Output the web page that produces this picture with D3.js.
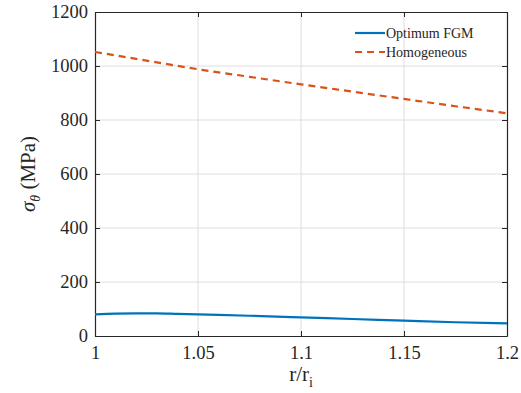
<!DOCTYPE html>
<html>
<head>
<meta charset="utf-8">
<title>Hoop stress</title>
<script src="https://cdn.jsdelivr.net/npm/d3@7"></script>
<style>
  body { margin: 0; background: #fff; }
  svg text { font-family: 'Liberation Serif', 'Times New Roman', serif; fill: #262626; }
  .grid line { stroke: #dedede; stroke-width: 1; }
  .axis text { font-size: 18.5px; }
</style>
</head>
<body>
<div id="chart"></div>
<script>
// data
var rFgm = [1.0, 1.01, 1.02, 1.03, 1.04, 1.05, 1.075, 1.1, 1.125, 1.15, 1.175, 1.2];
var sigmaFgm = [80, 83, 84, 84, 82, 80, 75, 69, 63, 57, 51, 47];
var rHom = [1.0, 1.025, 1.05, 1.075, 1.1, 1.125, 1.15, 1.175, 1.2];
var sigmaHom = [1052, 1020, 988, 960, 932, 905, 878, 851, 825];
var xTicks = [1, 1.05, 1.1, 1.15, 1.2];
var yTicks = [0, 200, 400, 600, 800, 1000, 1200];
var seriesNames = ["Optimum FGM", "Homogeneous"];

var margin = {top: 12, right: 14, bottom: 57, left: 95},
    width = 521 - margin.left - margin.right,
    height = 393 - margin.top - margin.bottom;

var svg = d3.select("#chart").append("svg")
    .attr("width", 521).attr("height", 393)
  .append("g")
    .attr("transform", "translate(" + margin.left + "," + margin.top + ")");

var x = d3.scaleLinear().domain([1, 1.2]).range([0, width]);
var y = d3.scaleLinear().domain([0, 1200]).range([height, 0]);

// grid lines
svg.append("g").attr("class", "grid")
  .selectAll("line").data(xTicks.slice(1, -1)).enter().append("line")
    .attr("x1", function(d) { return x(d); }).attr("x2", function(d) { return x(d); })
    .attr("y1", 0).attr("y2", height);
svg.append("g").attr("class", "grid")
  .selectAll("line").data(yTicks.slice(1, -1)).enter().append("line")
    .attr("y1", function(d) { return y(d); }).attr("y2", function(d) { return y(d); })
    .attr("x1", 0).attr("x2", width);

// axes, ticks pointing inward like matlab
var fmt = function(d) { return String(d); };
var xAxis = svg.append("g").attr("class", "axis")
    .attr("transform", "translate(0," + height + ")")
    .call(d3.axisBottom(x).tickValues(xTicks).tickSizeInner(-5).tickSizeOuter(0).tickPadding(10).tickFormat(fmt));
var yAxis = svg.append("g").attr("class", "axis")
    .call(d3.axisLeft(y).tickValues(yTicks).tickSizeInner(-5).tickSizeOuter(0).tickPadding(7).tickFormat(fmt));
var xTop = svg.append("g")
    .call(d3.axisTop(x).tickValues(xTicks).tickSizeInner(-5).tickSizeOuter(0).tickFormat(""));
var yRight = svg.append("g")
    .attr("transform", "translate(" + width + ",0)")
    .call(d3.axisRight(y).tickValues(yTicks).tickSizeInner(-5).tickSizeOuter(0).tickFormat(""));

[xAxis, yAxis, xTop, yRight].forEach(function(a) {
  a.attr("font-family", null).attr("font-size", null);
  a.selectAll("path").attr("stroke", "#262626").attr("stroke-width", 1.2);
  a.selectAll("line").attr("stroke", "#262626");
  a.selectAll("text").attr("fill", "#262626");
});

// lines
var lineFgm = d3.line().curve(d3.curveMonotoneX)
    .x(function(d, i) { return x(rFgm[i]); }).y(function(d) { return y(d); });
var lineHom = d3.line().curve(d3.curveMonotoneX)
    .x(function(d, i) { return x(rHom[i]); }).y(function(d) { return y(d); });

svg.append("path").datum(sigmaHom)
    .attr("d", lineHom).attr("fill", "none")
    .attr("stroke", "#D95319").attr("stroke-width", 2.2)
    .attr("stroke-dasharray", "7,5");
svg.append("path").datum(sigmaFgm)
    .attr("d", lineFgm).attr("fill", "none")
    .attr("stroke", "#0072BD").attr("stroke-width", 2.2);

// legend
var legend = svg.append("g").attr("transform", "translate(" + (x(1.2) - 152) + ",21)");
legend.append("line").attr("x1", 0).attr("x2", 30).attr("y1", 0).attr("y2", 0)
    .attr("stroke", "#0072BD").attr("stroke-width", 2.2);
legend.append("line").attr("x1", 0).attr("x2", 30).attr("y1", 19).attr("y2", 19)
    .attr("stroke", "#D95319").attr("stroke-width", 2.2).attr("stroke-dasharray", "7,5");
legend.selectAll("text").data(seriesNames).enter().append("text")
    .attr("x", 31).attr("y", function(d, i) { return i * 19 + 5; })
    .style("font-size", "14px")
    .text(function(d) { return d; });

// axis labels
var yl = svg.append("text")
    .attr("transform", "translate(-60," + (height / 2) + ") rotate(-90)")
    .attr("text-anchor", "middle")
    .style("font-size", "21px");
yl.append("tspan").style("font-style", "italic").text("σ");
yl.append("tspan").style("font-style", "italic").style("font-size", "14px").attr("dy", 5).text("θ");
yl.append("tspan").attr("dy", -5).text(" (MPa)");

var xl = svg.append("text")
    .attr("x", width / 2).attr("y", height + 45)
    .attr("text-anchor", "middle")
    .style("font-size", "21px");
xl.append("tspan").text("r/r");
xl.append("tspan").style("font-size", "14px").attr("dy", 6).text("i");
</script>
</body>
</html>
